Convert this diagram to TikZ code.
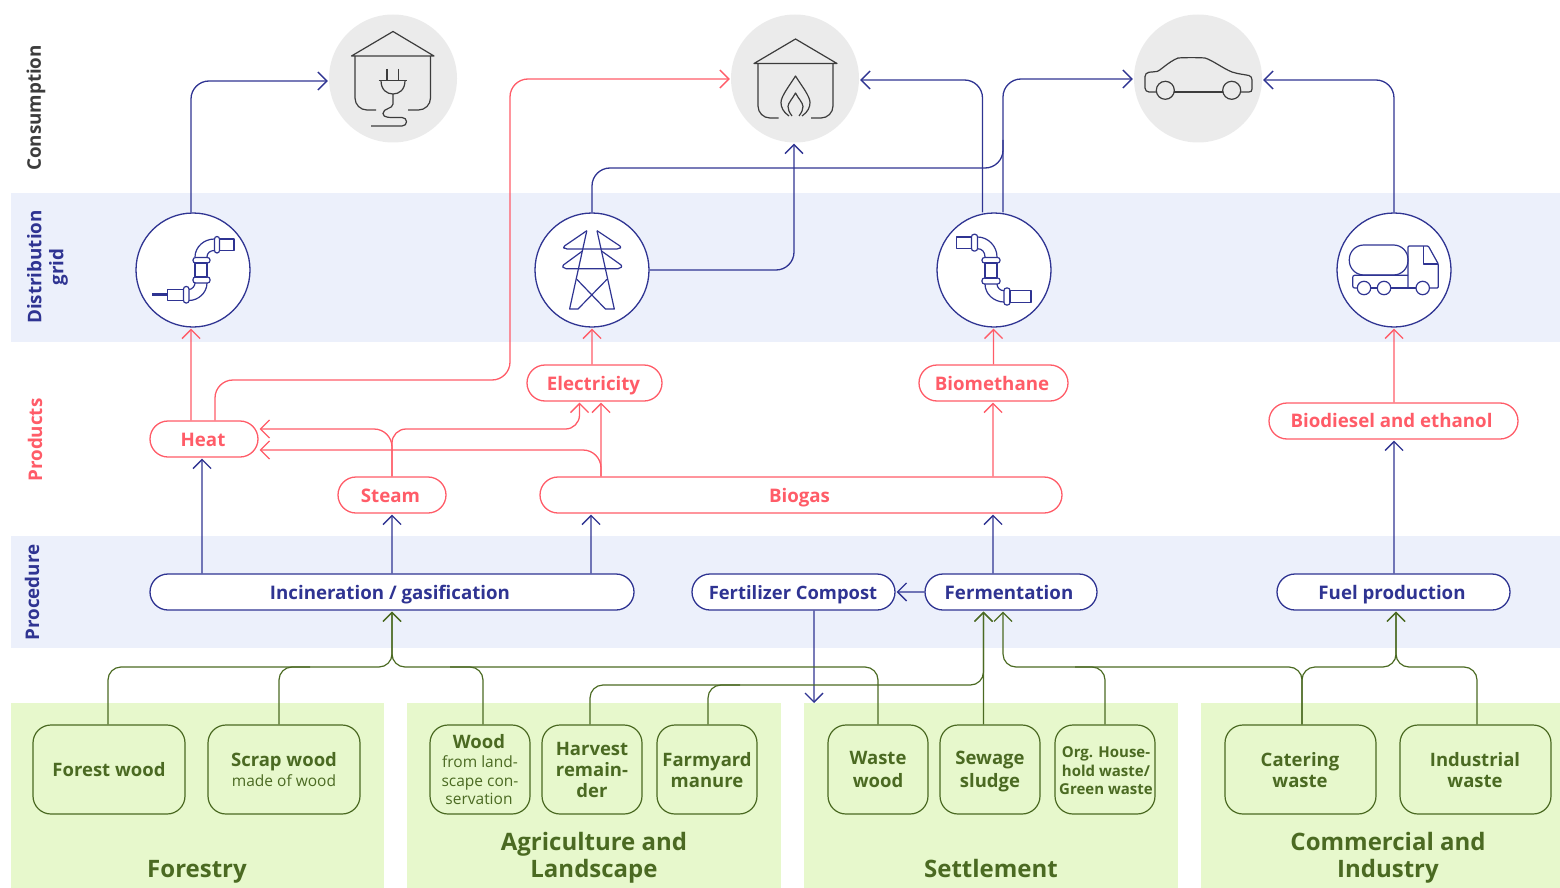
\documentclass[tikz,border=0pt]{standalone}
\usepackage{fontspec}
\setmainfont{Open Sans}
\usetikzlibrary{arrows.meta}
\definecolor{cblue}{HTML}{2F3492}
\definecolor{cred}{HTML}{FF5C68}
\definecolor{cgreen}{HTML}{4B6A22}
\definecolor{cdark}{HTML}{3C3C3C}
\definecolor{bandblue}{HTML}{ECF0FB}
\definecolor{bandgreen}{HTML}{E7F8CC}
\definecolor{cgrey}{HTML}{EBEBEB}
\newcommand{\fs}[2]{\fontsize{#1}{#2}\selectfont}
\newcommand{\fst}{\rule{0pt}{19pt}}
\newcommand{\fstb}{\rule{0pt}{20.6pt}}
\newcommand{\lst}{\rule[-6pt]{0pt}{6pt}}
\newcommand{\tfst}{\rule{0pt}{20pt}}
\newcommand{\tlst}{\rule[-6pt]{0pt}{6pt}}
\newcommand{\thin}[1]{{\fs{15.5}{19}\mdseries #1}}
\newcommand{\sh}[1]{\hspace*{#1pt}}
\tikzset{
  band/.style={fill=bandblue,draw=none},
  gband/.style={fill=bandgreen,draw=none},
  pillbase/.style={draw,fill=white,line width=1.3pt,rounded corners=18pt,minimum height=36pt,inner sep=0pt,text height=16pt,text depth=2pt,font=\fs{18.7}{22}\bfseries},
  bluepill/.style={pillbase,draw=cblue,text=cblue},
  redpill/.style={pillbase,draw=cred,text=cred},
  srcbox/.style={draw=cgreen,fill=bandgreen,line width=1.2pt,rounded corners=18pt,minimum height=89pt,inner sep=0pt,text=cgreen,align=center,font=\fs{18.5}{21}\bfseries},
  consume/.style={circle,fill=cgrey,minimum size=128pt,inner sep=0pt},
  grid/.style={circle,draw=cblue,fill=white,line width=1.3pt,minimum size=114pt,inner sep=0pt},
  sidelabel/.style={rotate=90,align=center,font=\fs{18.8}{22}\bfseries},
  grouptitle/.style={text=cgreen,align=center,inner sep=0pt,font=\fs{24}{27}\bfseries},
  link/.style={line width=1.3pt,rounded corners=18pt},
  tiplink/.style={link,-{Straight Barb[length=9pt,width=18pt]},shorten >=1pt},
  bluelink/.style={tiplink,draw=cblue},
  redlink/.style={tiplink,draw=cred},
  greenlink/.style={tiplink,draw=cgreen,line width=1.2pt,rounded corners=13pt},
  bluepath/.style={link,draw=cblue},
  redpath/.style={link,draw=cred},
  greenpath/.style={link,draw=cgreen,line width=1.2pt,rounded corners=13pt},
  iconb/.style={draw=cblue,line width=1.2pt,line join=round},
  icond/.style={draw=cdark,line width=1.2pt,line join=round},
}
\begin{document}
\begin{tikzpicture}[x=1pt,y=-1pt]
\useasboundingbox (0,0) rectangle (1560,888);
% bands
\fill[band] (11,193) rectangle (1560,342);
\fill[band] (11,536) rectangle (1560,648);
\fill[gband] (11,703) rectangle (384,888);
\fill[gband] (407,703) rectangle (781,888);
\fill[gband] (804,703) rectangle (1178,888);
\fill[gband] (1201,703) rectangle (1560,888);
% side labels
\node[sidelabel,text=cdark] (lcons) at (36,108) {Consumption};
\node[sidelabel,text=cblue] (ldist) at (47.5,267) {Distribution\\grid};
\node[sidelabel,text=cred] (lprod) at (35,440) {Products};
\node[sidelabel,text=cblue] (lproc) at (32,592.5) {Procedure};
% consumption
\node[consume] (c1) at (393,78.5) {};
\node[consume] (c2) at (795,78.5) {};
\node[consume] (c3) at (1198,78.5) {};
% grid
\node[grid] (g1) at (193,270) {};
\node[grid] (g2) at (592,270) {};
\node[grid] (g3) at (994,270) {};
\node[grid] (g4) at (1394,270) {};
% products
\node[redpill,minimum width=108pt] (heat) at (204,439) {Heat\sh{2}};
\node[redpill,minimum width=108pt] (steam) at (392,495) {Steam\sh{3}};
\node[redpill,minimum width=522pt] (biogas) at (801,495) {Biogas\sh{3}};
\node[redpill,minimum width=135pt] (elec) at (594.5,383) {Electricity\sh{2}};
\node[redpill,minimum width=149pt] (biom) at (993.5,383) {Biomethane\sh{3}};
\node[redpill,minimum width=249pt] (biod) at (1393.5,421) {\raisebox{1pt}{Biodiesel and ethanol}\sh{4}};
% procedure
\node[bluepill,minimum width=484pt] (inc) at (392,592) {Incineration / gasification\sh{4}};
\node[bluepill,minimum width=203pt,font=\fs{18.4}{22}\bfseries] (fert) at (793.5,592) {Fertilizer Compost\sh{1}};
\node[bluepill,minimum width=172pt] (ferm) at (1011,592) {Fermentation\sh{4}};
\node[bluepill,minimum width=233pt] (fuel) at (1393.5,592) {Fuel production\sh{3}};
% sources
\node[srcbox,minimum width=152pt] (forest) at (109,769.5) {\fst\lst Forest wood};
\node[srcbox,minimum width=152pt,font=\fs{18.5}{19.7}\bfseries] (scrap) at (284,769.5) {\fstb Scrap wood\\\lst\thin{made of wood}};
\node[srcbox,minimum width=100pt,font=\fs{18.5}{18.7}\bfseries] (wood) at (480,769.5) {\fstb Wood\sh{2}\\\thin{from land-\sh{2}}\\\thin{scape con-\sh{2}}\\\lst\thin{servation\sh{2}}};
\node[srcbox,minimum width=100pt] (harv) at (592,769.5) {\fst Harvest\\remain-\\\lst der};
\node[srcbox,minimum width=100pt] (farm) at (707,769.5) {\fstb Farmyard\\\lst manure};
\node[srcbox,minimum width=100pt,font=\fs{18.5}{22.5}\bfseries] (waste) at (878,769.5) {\fst Waste\\\lst wood};
\node[srcbox,minimum width=100pt,font=\fs{18.5}{22.5}\bfseries] (sew) at (990,769.5) {\fst Sewage\\\lst sludge};
\node[srcbox,minimum width=100pt,font=\fs{15}{18.7}\bfseries] (org) at (1105,769.5) {\sh{2}\fst Org. House-\\\sh{2}hold waste/\\\sh{2}\lst Green waste};
\node[srcbox,minimum width=151pt] (cat) at (1300.5,769.5) {\fstb Catering\sh{1}\\\lst waste\sh{1}};
\node[srcbox,minimum width=151pt] (ind) at (1475.5,769.5) {\fstb Industrial\sh{1}\\\lst waste\sh{1}};
% group titles
\node[grouptitle] (tf) at (197,870.7) {\tfst\tlst Forestry};
\node[grouptitle] (ta) at (594,857.2) {\tfst Agriculture and\\\tlst Landscape};
\node[grouptitle] (ts) at (991,870.7) {\tfst\tlst Settlement};
\node[grouptitle] (tc) at (1388,857.2) {\tfst Commercial and\\\tlst Industry};
% blue links
\draw[bluelink] (191,0 |- g1.north) -- (191,81) -- (c1.west |- 0,81);
\draw[bluepath] (592,0 |- g2.north) -- (592,168) -- (1003,168) -- (1003,140);
\draw[bluelink] (1003,0 |- g3.north) -- (1003,79) -- (c3.west |- 0,79);
\draw[bluelink] (982.5,0 |- g3.north) -- (982.5,80) -- (c2.east |- 0,80);
\draw[bluelink] (g2.east) -- (794,270) -- (794,0 |- c2.south);
\draw[bluelink] (1394,0 |- g4.north) -- (1394,80) -- (c3.east |- 0,80);
\draw[bluelink] (202,0 |- inc.north) -- (202.06,0 |- heat.south);
\draw[bluelink] (392,0 |- inc.north) -- (392.06,0 |- steam.south);
\draw[bluelink] (591,0 |- inc.north) -- (591.06,0 |- biogas.south);
\draw[bluelink] (993,0 |- ferm.north) -- (993.06,0 |- biogas.south);
\draw[bluelink] (1394,0 |- fuel.north) -- (1394.06,0 |- biod.south);
\draw[bluelink] (ferm.west) -- ([yshift=.06pt]fert.east);
\draw[bluelink] (814,0 |- fert.south) -- (814.06,704);
% red links
\draw[redlink] (191,0 |- heat.north) -- (191.06,0 |- g1.south);
\draw[redlink] (215,0 |- heat.north) -- (215,380) -- (510,380) -- (510,79) -- (c2.west |- 0,79);
\draw[redlink] (592,0 |- elec.north) -- (592.06,0 |- g2.south);
\draw[redlink] (993.5,0 |- biom.north) -- (993.56,0 |- g3.south);
\draw[redlink] (1394,0 |- biod.north) -- (1394.06,0 |- g4.south);
\draw[redlink] (392,0 |- steam.north) -- (392,429) -- (heat.east |- 0,429);
\draw[redlink,rounded corners=14pt] (392,0 |- steam.north) -- (392,429) -- (579.5,429) -- (579.5,0 |- elec.south);
\draw[redlink] (601,0 |- biogas.north) -- (601.06,0 |- elec.south);
\draw[redlink] (601,0 |- biogas.north) -- (601,450) -- (heat.east |- 0,450);
\draw[redlink] (993,0 |- biogas.north) -- (993.06,0 |- biom.south);
% green links
\draw[greenlink] (108,0 |- forest.north) -- (108,667) -- (392,667) -- (392,0 |- inc.south);
\draw[greenpath] (279,0 |- scrap.north) -- (279,667) -- (310,667);
\draw[greenlink] (878,0 |- waste.north) -- (878,667) -- (392,667) -- (392,0 |- inc.south);
\draw[greenpath] (483,0 |- wood.north) -- (483,667) -- (450,667);
\draw[greenlink] (590,0 |- harv.north) -- (590,685) -- (983.5,685) -- (983.5,0 |- ferm.south);
\draw[greenpath] (708,0 |- farm.north) -- (708,685) -- (740,685);
\draw[greenlink] (983.5,0 |- sew.north) -- (983.56,0 |- ferm.south);
\draw[greenlink] (1302,0 |- cat.north) -- (1302,667) -- (1003,667) -- (1003,0 |- ferm.south);
\draw[greenpath] (1105,0 |- org.north) -- (1105,667) -- (1075,667);
\draw[greenlink] (1302,0 |- cat.north) -- (1302,667) -- (1396,667) -- (1396,0 |- fuel.south);
\draw[greenlink] (1477,0 |- ind.north) -- (1477,667) -- (1396,667) -- (1396,0 |- fuel.south);
% icon: house with plug
\draw[icond] (351.5,56) -- (393,31.5) -- (434,56) -- cycle;
\draw[icond,rounded corners=12pt] (355,56) -- (355,110) -- (376,110);
\draw[icond,rounded corners=12pt] (430.5,56) -- (430.5,110) -- (408,110);
\draw[icond] (387,69) -- (387,80.5) (398.5,69) -- (398.5,80.5) (378.5,80.5) -- (407,80.5);
\draw[icond] (381,80.5) .. controls (381,90) and (387,94) .. (393,94) .. controls (399,94) and (405,90) .. (405,80.5);
\draw[icond] (393,94) -- (393,104) .. controls (393,109) and (383,108) .. (383,113.5) .. controls (383,118) and (390,117.5) .. (398,117.5) -- (402,117.5) .. controls (408,117.5) and (408,126) .. (402,126) -- (371,126);
% icon: house with flame
\draw[icond] (754,63.5) -- (795.5,39) -- (837,63.5) -- cycle;
\draw[icond,rounded corners=12pt] (758,63.5) -- (758,118) -- (778.5,118);
\draw[icond,rounded corners=12pt] (833,63.5) -- (833,118) -- (811,118);
\draw[icond] (789,116) .. controls (783,112) and (781,107) .. (781,102.5) .. controls (781,96) and (790,85) .. (795.5,76) .. controls (801,85) and (810,96) .. (810,102.5) .. controls (810,107) and (808,112) .. (802,116);
\draw[icond] (792,116) .. controls (789,112) and (788,109) .. (788,106.5) .. controls (788,103) and (793,98) .. (795.5,93) .. controls (798,98) and (803,103) .. (803,106.5) .. controls (803,109) and (802,112) .. (799,116);
% icon: car
\draw[icond,rounded corners=4pt] (1156,92) -- (1145,92) -- (1145,72.5) -- (1153,72) .. controls (1160,71) and (1168,62) .. (1178,58);
\draw[icond] (1178,58) .. controls (1185,57.5) and (1198,57.5) .. (1205,58) .. controls (1212,60) and (1224,69) .. (1232,72) .. controls (1238,74) and (1244,74.5) .. (1249,75.5) .. controls (1251,76) and (1252,78) .. (1252,80) -- (1252,89) .. controls (1252,91) and (1251,92) .. (1249,92) -- (1241,92);
\draw[icond] (1174,92) -- (1223,92);
\draw[icond] (1165.3,90.3) circle (9);
\draw[icond] (1231.7,90.3) circle (9);
% icon: pipe 1
\draw[iconb] (219.5,239) rectangle (234,250.5);
\draw[iconb,rounded corners=2.5pt] (214.5,236.5) rectangle (219.5,253);
\draw[iconb] (214.5,239) .. controls (204,239) and (195,247) .. (195,257);
\draw[iconb] (214.5,250.5) .. controls (210,250.5) and (207,253) .. (207,257);
\draw[iconb] (195,263) rectangle (207,277);
\draw[iconb,rounded corners=2.5pt] (193,257.5) rectangle (210,263);
\draw[iconb,rounded corners=2.5pt] (193,277) rectangle (210,283);
\draw[iconb] (207,283) .. controls (207,293) and (198,300.5) .. (189,300.5);
\draw[iconb] (195,283) .. controls (195,286) and (192,289.5) .. (189,289.5);
\draw[iconb,rounded corners=2.5pt] (183.5,286.5) rectangle (189,303);
\draw[iconb] (167.5,289.5) rectangle (183.5,300.5);
\draw[draw=cblue,line width=3pt] (152,294.5) -- (167.5,294.5);
% icon: tower
\draw[iconb] (586.8,230.7) -- (569.6,309) -- (578,309) -- (607,279.3);
\draw[iconb] (597,230.7) -- (614.3,309) -- (605.4,309) -- (576.8,279.3);
\draw[iconb,rounded corners=2pt] (586.8,230.7) -- (563,247) -- (565,249) -- (619,249) -- (621.5,247) -- (597,230.7);
\draw[iconb,rounded corners=2pt] (582.5,251) -- (562,266) -- (564,268.7) -- (620,268.7) -- (622.5,266) -- (601.5,251);
% icon: pipe 2
\draw[iconb] (956.5,237) rectangle (971.5,248.7);
\draw[iconb,rounded corners=2.5pt] (971.5,234.3) rectangle (977.5,251);
\draw[iconb] (977.5,237) .. controls (988,237) and (997,246) .. (997,257);
\draw[iconb] (977.5,248.7) .. controls (982,248.7) and (985,252) .. (985,257);
\draw[iconb] (985,263) rectangle (997,278);
\draw[iconb,rounded corners=2.5pt] (982,257.5) rectangle (1000,263);
\draw[iconb,rounded corners=2.5pt] (982,278) rectangle (1000,284);
\draw[iconb] (985,284) .. controls (985,294) and (994,302) .. (1004,302);
\draw[iconb] (997,284) .. controls (997,287.5) and (1000,290.7) .. (1004,290.7);
\draw[iconb,rounded corners=2.5pt] (1004,288) rectangle (1010,305);
\draw[iconb] (1010,290.7) rectangle (1031,302.3);
% icon: truck
\draw[iconb,rounded corners=14.5pt] (1349.3,245) rectangle (1408,275);
\draw[iconb,rounded corners=2pt] (1408,275.3) -- (1352.7,275.3) -- (1352.7,288) -- (1357.3,288);
\draw[iconb] (1364,288) circle (6.7);
\draw[iconb] (1384,288) circle (6.7);
\draw[iconb] (1422.7,288) circle (6.7);
\draw[iconb] (1370.7,288) -- (1377.3,288);
\draw[iconb] (1390.7,288) -- (1416,288);
\draw[iconb,rounded corners=1pt] (1429.4,288) -- (1438.3,288) -- (1438.3,264) -- (1428.3,246) -- (1408,246) -- (1408,288);
\draw[iconb] (1423.3,246) -- (1423.3,264) -- (1438.3,264);
\end{tikzpicture}
\end{document}
